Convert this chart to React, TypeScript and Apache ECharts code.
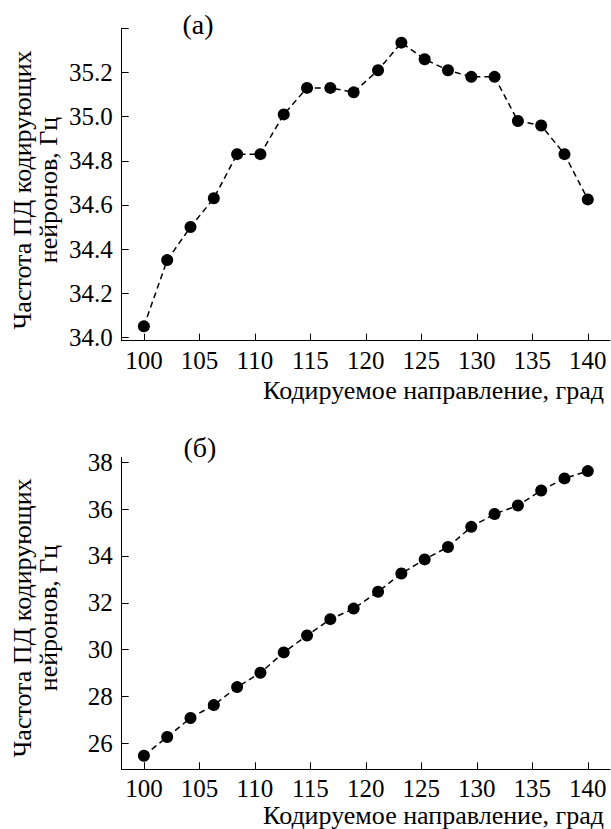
import React, { useEffect, useRef } from "react";
import * as echarts from "echarts";

// Encoded direction (deg)
const directions = [100, 102.1, 104.2, 106.3, 108.4, 110.5, 112.6, 114.7, 116.8, 118.9, 121.1, 123.2, 125.3, 127.4, 129.5, 131.6, 133.7, 135.8, 137.9, 140];
// Panel (а) firing rate, Hz
const rateA = [34.05, 34.35, 34.5, 34.63, 34.83, 34.83, 35.01, 35.13, 35.13, 35.11, 35.21, 35.335, 35.26, 35.21, 35.18, 35.18, 34.98, 34.96, 34.83, 34.625];
// Panel (б) firing rate, Hz
const rateB = [25.47, 26.27, 27.08, 27.63, 28.4, 29.01, 29.88, 30.6, 31.3, 31.75, 32.47, 33.25, 33.85, 34.38, 35.24, 35.79, 36.15, 36.79, 37.31, 37.62];

const xTicks = [100, 105, 110, 115, 120, 125, 130, 135, 140];
const yTicksA = [34.0, 34.2, 34.4, 34.6, 34.8, 35.0, 35.2, 35.4];
const yLabelsA = [34.0, 34.2, 34.4, 34.6, 34.8, 35.0, 35.2];
const yTicksB = [26, 28, 30, 32, 34, 36, 38];
const yLabelsB = [26, 28, 30, 32, 34, 36, 38];

const panelLabels = ["(а)", "(б)"];
const yTitle = "Частота ПД кодирующих\nнейронов, Гц";
const xTitle = "Кодируемое направление, град";

const FONT = "Liberation Serif, Times New Roman, serif";

export default function App() {
  const ref = useRef<HTMLDivElement>(null);
  useEffect(() => {
    if (!ref.current) return;
    const chart = echarts.init(ref.current, null, { renderer: "svg" });
    const axisLine = { show: true, lineStyle: { color: "#000", width: 1 } };
    const labelStyle = { color: "#000", fontFamily: FONT, fontSize: 25 };
    const mkX = (gridIndex: number) => ({
      type: "value",
      gridIndex,
      min: 98,
      max: 142,
      axisLine,
      axisTick: { show: true, inside: true, length: 7, lineStyle: { color: "#000" }, customValues: xTicks },
      axisLabel: { show: true, customValues: xTicks, margin: 7, ...labelStyle },
      splitLine: { show: false },
    });
    const mkY = (gridIndex: number, min: number, max: number, ticks: number[], labels: number[], dec: number) => ({
      type: "value",
      gridIndex,
      min,
      max,
      axisLine,
      axisTick: { show: true, inside: true, length: 7, lineStyle: { color: "#000" }, customValues: ticks },
      axisLabel: {
        show: true,
        customValues: labels,
        margin: 9,
        ...labelStyle,
        formatter: (v: number) => v.toFixed(dec),
      },
      splitLine: { show: false },
    });
    const seriesStyle = {
      type: "line",
      symbol: "circle",
      symbolSize: 12,
      itemStyle: { color: "#000" },
      lineStyle: { color: "#000", width: 1.5, type: [6, 4] },
    };
    const txt = (x: number, y: number, text: string, fontSize: number, extra: any = {}) => ({
      type: "text",
      x,
      y,
      style: { text, fill: "#000", fontFamily: FONT, fontSize, ...extra },
    });
    chart.setOption({
      animation: false,
      backgroundColor: "#fff",
      grid: [
        { left: 121.7, top: 28.3, width: 488.3, height: 312.4, containLabel: false, outerBoundsMode: "none" },
        { left: 121.7, top: 457.3, width: 488.3, height: 312, containLabel: false, outerBoundsMode: "none" },
      ],
      xAxis: [mkX(0), mkX(1)],
      yAxis: [
        mkY(0, 33.985, 35.4, yTicksA, yLabelsA, 1),
        mkY(1, 24.89, 38.21, yTicksB, yLabelsB, 0),
      ],
      series: [
        { ...seriesStyle, xAxisIndex: 0, yAxisIndex: 0, data: directions.map((d, i) => [d, rateA[i]]) },
        { ...seriesStyle, xAxisIndex: 1, yAxisIndex: 1, data: directions.map((d, i) => [d, rateB[i]]) },
      ],
      graphic: [
        txt(198, 24, panelLabels[0], 28, { align: "center", verticalAlign: "middle" }),
        txt(200, 447, panelLabels[1], 28, { align: "center", verticalAlign: "middle" }),
        { ...txt(35, 190, yTitle, 26, { align: "center", verticalAlign: "middle", lineHeight: 26 }), rotation: Math.PI / 2 },
        { ...txt(35, 618, yTitle, 26, { align: "center", verticalAlign: "middle", lineHeight: 26 }), rotation: Math.PI / 2 },
        txt(604, 390, xTitle, 26, { align: "right", verticalAlign: "middle" }),
        txt(604, 815, xTitle, 26, { align: "right", verticalAlign: "middle" }),
      ],
    });
    return () => chart.dispose();
  }, []);
  return <div ref={ref} style={{ position: "fixed", left: 0, top: 0, width: 611, height: 829 }} />;
}
